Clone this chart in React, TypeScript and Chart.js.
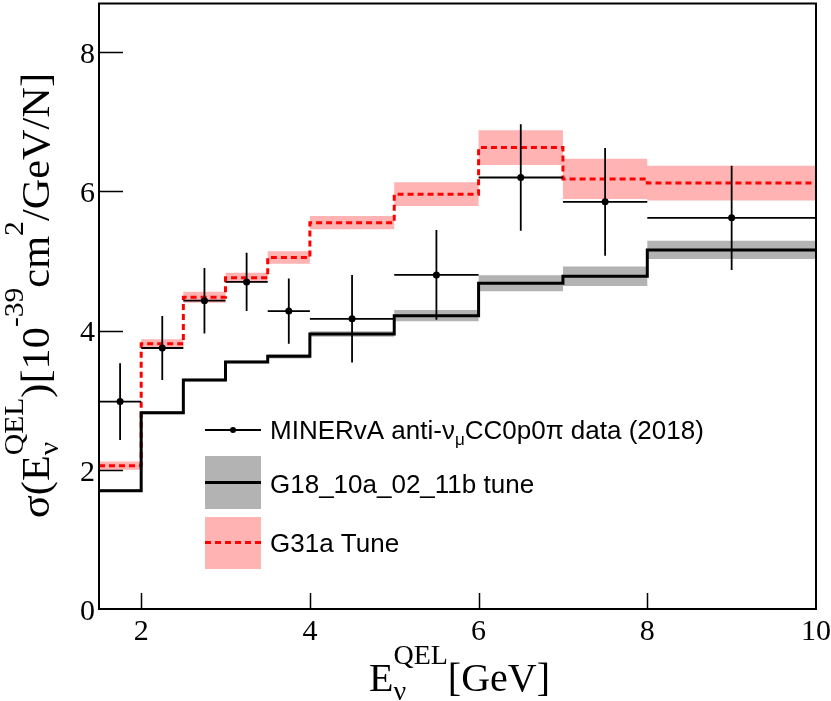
import React, { useEffect, useRef } from "react";
import { Chart, registerables } from "chart.js";

Chart.register(...registerables);

// ---- data ----
const binEdges = [1.5, 2, 2.5, 3, 3.5, 4, 5, 6, 7, 8, 10];
const dataX = [1.75, 2.25, 2.75, 3.25, 3.75, 4.5, 5.5, 6.5, 7.5, 9];
const dataY = [2.98, 3.75, 4.43, 4.70, 4.28, 4.17, 4.80, 6.20, 5.85, 5.62];
const dataErr = [0.55, 0.46, 0.47, 0.42, 0.47, 0.63, 0.645, 0.765, 0.775, 0.75];
const g18Values = [1.70, 2.82, 3.29, 3.55, 3.63, 3.95, 4.215, 4.68, 4.78, 5.16];
const g18Err = [0.02, 0.02, 0.02, 0.02, 0.03, 0.04, 0.08, 0.115, 0.14, 0.13];
const g31Values = [2.06, 3.81, 4.48, 4.76, 5.05, 5.55, 5.96, 6.63, 6.18, 6.12];
const g31Err = [0.06, 0.065, 0.08, 0.07, 0.09, 0.095, 0.17, 0.25, 0.29, 0.25];
const xTicks = [2, 4, 6, 8, 10];
const yTicks = [0, 2, 4, 6, 8];
const legendData = ["MINERvA anti-ν", "μ", "CC0p0π data (2018)"];
const legendG18 = "G18_10a_02_11b tune";
const legendG31 = "G31a Tune";

const GREY = "rgb(179,179,179)";
const PINK = "rgb(255,179,179)";
const RED = "rgb(255,0,0)";
const SERIF = "'Liberation Serif', 'Times New Roman', serif";
const SANS = "'Liberation Sans', Arial, sans-serif";

function steps(vals: number[]) {
  const pts = vals.map((v, i) => ({ x: binEdges[i], y: v }));
  pts.push({ x: binEdges[binEdges.length - 1], y: vals[vals.length - 1] });
  return pts;
}

function hBars() {
  const pts: any[] = [];
  dataX.forEach((_, i) => {
    pts.push({ x: binEdges[i], y: dataY[i] }, { x: binEdges[i + 1], y: dataY[i] }, { x: binEdges[i + 1], y: null });
  });
  return pts;
}
function vBars() {
  const pts: any[] = [];
  dataX.forEach((x, i) => {
    pts.push({ x, y: dataY[i] - dataErr[i] }, { x, y: dataY[i] + dataErr[i] }, { x, y: null });
  });
  return pts;
}

type Seg =
  | { text: string; size: number; dy?: number; font?: string }
  | { sub: string; sup: string; size: number; dySub: number; dySup: number; font?: string };

function drawRich(ctx: CanvasRenderingContext2D, segs: Seg[], x: number, y: number, family: string, draw = true) {
  let cx = x;
  ctx.textBaseline = "alphabetic";
  ctx.textAlign = "left";
  for (const s of segs) {
    if ("text" in s) {
      ctx.font = `${s.size}px ${s.font || family}`;
      if (draw) ctx.fillText(s.text, cx, y + (s.dy || 0));
      cx += ctx.measureText(s.text).width;
    } else {
      ctx.font = `${s.size}px ${s.font || family}`;
      if (draw) {
        ctx.fillText(s.sub, cx, y + s.dySub);
        ctx.fillText(s.sup, cx, y + s.dySup);
      }
      cx += Math.max(ctx.measureText(s.sub).width, ctx.measureText(s.sup).width);
    }
  }
  return cx - x;
}

const decor = {
  id: "decor",
  afterDatasetsDraw(chart: any) {
    const { ctx, chartArea } = chart;
    const { left, right, top, bottom } = chartArea;
    const xs = chart.scales.x;
    const ys = chart.scales.y;
    ctx.save();
    ctx.strokeStyle = "#000";
    // ticks (inside)
    ctx.lineWidth = 1.5;
    ctx.beginPath();
    for (const v of yTicks) {
      if (v === 0) continue;
      const py = Math.round(ys.getPixelForValue(v)) + 0.5;
      ctx.moveTo(left, py);
      ctx.lineTo(left + 24, py);
    }
    for (const v of xTicks) {
      if (v === 10) continue;
      const px = Math.round(xs.getPixelForValue(v)) + 0.5;
      ctx.moveTo(px, bottom);
      ctx.lineTo(px, bottom - 16);
    }
    ctx.stroke();
    // frame
    ctx.lineWidth = 2;
    ctx.strokeRect(left, top, right - left, bottom - top);
    ctx.restore();
  },
  afterDraw(chart: any) {
    const { ctx } = chart;
    ctx.save();
    ctx.fillStyle = "#000";
    // x title
    const xSegs: Seg[] = [
      { text: "E", size: 40 },
      { sub: "ν", sup: "QEL", size: 28, dySub: 9, dySup: -27 },
      { text: "[GeV]", size: 40 },
    ];
    drawRich(ctx, xSegs, 369, 691, SERIF);
    // y title
    const ySegs: Seg[] = [
      { text: "σ(E", size: 40 },
      { sub: "ν", sup: "QEL", size: 28, dySub: 9, dySup: -26 },
      { text: ")[10", size: 40 },
      { text: "-39", size: 28, dy: -26 },
      { text: "cm", size: 40 },
      { text: "2", size: 28, dy: -26 },
      { text: "/GeV/N]", size: 40 },
    ];
    const w = drawRich(ctx, ySegs, 0, 0, SERIF, false);
    const stretch = 445 / w;
    ctx.save();
    ctx.translate(49, 518);
    ctx.rotate(-Math.PI / 2);
    ctx.scale(stretch, 1);
    drawRich(ctx, ySegs, 0, 0, SERIF);
    ctx.restore();

    // legend
    ctx.fillStyle = GREY;
    ctx.fillRect(205, 456, 56, 53);
    ctx.fillStyle = PINK;
    ctx.fillRect(205, 517, 56, 52);
    ctx.strokeStyle = "#000";
    ctx.lineWidth = 1.8;
    ctx.beginPath();
    ctx.moveTo(205, 430);
    ctx.lineTo(261, 430);
    ctx.stroke();
    ctx.fillStyle = "#000";
    ctx.beginPath();
    ctx.arc(233, 430, 3, 0, Math.PI * 2);
    ctx.fill();
    ctx.lineWidth = 3;
    ctx.beginPath();
    ctx.moveTo(205, 482.5);
    ctx.lineTo(261, 482.5);
    ctx.stroke();
    ctx.strokeStyle = RED;
    ctx.setLineDash([6, 4]);
    ctx.beginPath();
    ctx.moveTo(205, 542.5);
    ctx.lineTo(261, 542.5);
    ctx.stroke();
    ctx.setLineDash([]);
    ctx.fillStyle = "#000";
    drawRich(
      ctx,
      [
        { text: legendData[0], size: 26 },
        { text: legendData[1], size: 17, dy: 6 },
        { text: legendData[2], size: 26 },
      ],
      270,
      439,
      SANS
    );
    drawRich(ctx, [{ text: legendG18, size: 26 }], 270, 493, SANS);
    drawRich(ctx, [{ text: legendG31, size: 26 }], 270, 552, SANS);
    ctx.restore();
  },
};

export default function App() {
  const ref = useRef<HTMLCanvasElement>(null);
  useEffect(() => {
    const canvas = ref.current!;
    const base = { pointRadius: 0, pointHoverRadius: 0, tension: 0 };
    const chart = new Chart(canvas, {
      type: "line",
      data: {
        datasets: [
          // data points
          {
            ...base,
            data: dataX.map((x, i) => ({ x, y: dataY[i] })),
            showLine: false,
            pointRadius: 3.5,
            pointBackgroundColor: "#000",
            pointBorderWidth: 0,
            borderColor: "#000",
            order: 0,
          },
          {
            ...base,
            data: hBars(),
            borderColor: "#000",
            borderWidth: 1.8,
            spanGaps: false,
            order: 1,
          },
          {
            ...base,
            data: vBars(),
            borderColor: "#000",
            borderWidth: 1.8,
            spanGaps: false,
            order: 1,
          },
          // model lines
          {
            ...base,
            data: steps(g18Values),
            stepped: true,
            borderColor: "#000",
            borderWidth: 3,
            order: 2,
          },
          {
            ...base,
            data: steps(g31Values),
            stepped: true,
            borderColor: RED,
            borderWidth: 3,
            borderDash: [6, 4],
            order: 2,
          },
          // bands
          {
            ...base,
            data: steps(g18Values.map((v, i) => v + g18Err[i])),
            stepped: true,
            borderWidth: 0,
            borderColor: "rgba(0,0,0,0)",
            backgroundColor: GREY,
            fill: "+1",
            order: 5,
          },
          {
            ...base,
            data: steps(g18Values.map((v, i) => v - g18Err[i])),
            stepped: true,
            borderWidth: 0,
            borderColor: "rgba(0,0,0,0)",
            fill: false,
            order: 6,
          },
          {
            ...base,
            data: steps(g31Values.map((v, i) => v + g31Err[i])),
            stepped: true,
            borderWidth: 0,
            borderColor: "rgba(0,0,0,0)",
            backgroundColor: PINK,
            fill: "+1",
            order: 5,
          },
          {
            ...base,
            data: steps(g31Values.map((v, i) => v - g31Err[i])),
            stepped: true,
            borderWidth: 0,
            borderColor: "rgba(0,0,0,0)",
            fill: false,
            order: 6,
          },
        ] as any,
      },
      options: {
        animation: false,
        responsive: false,
        devicePixelRatio: 1,
        parsing: true,
        layout: { padding: { top: 1, right: 15, left: 0, bottom: 0 } },
        plugins: {
          legend: { display: false },
          tooltip: { enabled: false },
        },
        events: [],
        scales: {
          x: {
            type: "linear",
            min: 1.5,
            max: 10,
            afterBuildTicks: (s: any) => {
              s.ticks = xTicks.map((v) => ({ value: v }));
            },
            afterFit: (s: any) => {
              s.height = 92;
              s.paddingLeft = 0;
              s.paddingRight = 0;
            },
            grid: { display: false, drawTicks: false },
            border: { display: false },
            ticks: {
              font: { family: SERIF, size: 30 },
              color: "#000",
              padding: 5,
              maxRotation: 0,
              autoSkip: false,
            },
          },
          y: {
            type: "linear",
            min: 0,
            max: 8.7,
            afterBuildTicks: (s: any) => {
              s.ticks = yTicks.map((v) => ({ value: v }));
            },
            afterFit: (s: any) => {
              s.width = 99;
              s.paddingTop = 0;
              s.paddingBottom = 0;
            },
            grid: { display: false, drawTicks: false },
            border: { display: false },
            ticks: {
              font: { family: SERIF, size: 30 },
              color: "#000",
              padding: 4,
              labelOffset: 3,
              autoSkip: false,
            },
          },
        },
      } as any,
      plugins: [decor],
    });
    return () => chart.destroy();
  }, []);
  return (
    <canvas
      ref={ref}
      width={831}
      height={701}
      style={{ position: "fixed", left: 0, top: 0, width: 831, height: 701, background: "#fff" }}
    />
  );
}
